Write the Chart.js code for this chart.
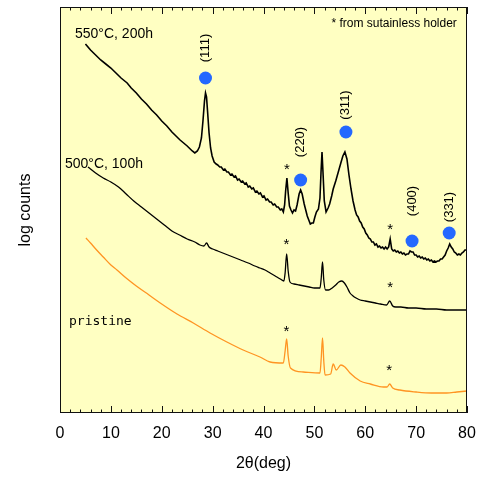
<!DOCTYPE html>
<html>
<head>
<meta charset="utf-8">
<script src="https://cdn.jsdelivr.net/npm/chart.js@4.4.1/dist/chart.umd.min.js"></script>
<style>
  html, body { margin: 0; padding: 0; background: #fff; }
  #wrap { width: 483px; height: 482px; }
</style>
</head>
<body>
<div id="wrap"><canvas id="xrd" width="483" height="482"></canvas></div>
<script>
// 2theta (deg) and log counts (arbitrary, offset per pattern)
const x550 = [5.0, 6.0, 7.0, 8.0, 9.0, 10.0, 11.0, 12.0, 13.2, 14.0, 15.0, 16.0, 17.0, 18.0, 19.0, 20.0, 21.0, 22.0, 22.8, 23.6, 24.3, 25.0, 25.6, 26.0, 26.5,
  27.0, 27.4, 27.8, 28.1, 28.4, 28.6, 28.8, 29.0, 29.3, 29.6, 29.9,
  30.3, 30.7, 31.0, 31.4, 31.7, 32.1, 32.4, 32.8, 33.1, 33.5, 33.8, 34.2, 34.5, 34.9, 35.2, 35.6, 35.9, 36.3, 36.6, 37.0, 37.3, 37.7, 38.0, 38.4,
  38.7, 39.1, 39.4, 39.8, 40.1, 40.5, 40.8, 41.2, 41.5, 41.9, 42.2, 42.6, 42.9, 43.3, 43.6, 43.9,
  44.15, 44.35, 44.6, 44.85, 45.1, 45.4, 45.7, 46.0, 46.3, 46.6, 47.0, 47.3, 47.6, 48.0, 48.3, 48.6, 48.9, 49.2, 49.5, 49.8, 50.1, 50.4, 50.8, 51.1, 51.3, 51.5, 51.7, 51.95,
  52.3, 52.7, 53.0, 53.4, 53.7, 54.2, 54.7, 55.2, 55.6, 56.0, 56.4, 56.8, 57.2, 57.6,
  58.0, 58.3, 58.6, 58.9, 59.2, 59.5, 59.8, 60.1, 60.4, 60.7, 61.0, 61.3, 61.6, 61.9, 62.2, 62.5, 62.8, 63.1, 63.4, 63.7, 64.0, 64.3, 64.6,
  64.9, 65.2, 65.5, 65.8, 66.1, 66.4, 66.7, 67.0, 67.3, 67.6, 67.9, 68.2, 68.5, 68.8, 69.1, 69.4, 69.7, 70.0, 70.3, 70.6, 70.9, 71.2, 71.5,
  71.8, 72.1, 72.4, 72.7, 73.0, 73.3, 73.6, 73.9, 74.2, 74.5, 74.8, 75.1, 75.4, 75.7, 76.0, 76.3, 76.6, 76.9, 77.2, 77.5, 77.8, 78.1, 78.4,
  78.7, 79.0, 79.3, 79.6, 79.9];
const y550 = [369, 363, 358, 353, 349, 345, 340, 335, 330, 325, 320, 314, 309, 303, 298, 292, 287, 281, 277, 273, 270, 267, 264, 262, 260,
  262, 266, 275, 292, 312, 320, 316, 302, 280, 265, 257,
  251, 249, 248, 246, 246, 243, 244, 241, 241, 238, 239, 236, 237, 233, 234, 231, 232, 229, 230, 226, 227, 224, 225, 221,
  222, 219, 220, 216, 217, 213, 214, 211, 211, 208, 209, 206, 206, 203, 204, 201,
  208, 222, 235, 220, 207, 203, 200, 203, 202, 208, 219, 223, 219, 209, 203, 197, 193, 189, 190, 190, 196, 201, 204, 215, 240, 261, 240, 212,
  201, 205, 209, 217, 224, 232, 241, 250, 257, 261, 254, 238, 224, 212,
  203, 198, 196, 192, 190, 186, 184, 180, 178, 175, 174, 171, 171, 168, 169, 166, 167, 165, 166, 164, 166, 164, 166,
  174, 164, 162, 163, 161, 162, 160, 161, 159, 160, 158, 159, 159, 162, 161, 161, 158, 158, 156, 157, 155, 156, 154,
  155, 153, 154, 152, 153, 151, 152, 151, 152, 152, 154, 154, 156, 158, 162, 165, 169, 166, 164, 161, 160, 158, 159,
  158, 160, 161, 163, 163];

const x500 = [5.5, 7.0, 8.5, 10.0, 11.5, 13.0, 14.5, 16.0, 17.5, 19.0, 20.5, 22.0, 23.5, 25.0, 26.5, 27.5, 28.3, 28.8, 29.3, 30.0, 31.0, 32.5, 34.0, 35.5, 37.0,
  38.3, 39.3, 40.3, 41.3, 42.3, 43.3, 44.0, 44.25, 44.55, 44.85, 45.2, 46.0, 47.0, 48.0, 49.0, 50.0, 51.1, 51.35, 51.6, 51.85, 52.2, 52.8, 53.5, 54.2, 54.8,
  55.4, 55.9, 56.4, 57.0, 57.6, 58.2, 59.0, 60.0, 61.0, 62.0, 63.0, 64.2, 64.8, 65.4, 66.0, 67.0, 68.5, 70.0, 72.0, 74.0, 76.0, 78.0, 80.0];
const y500 = [246, 240, 235, 231, 226, 219, 212, 206, 200, 194, 188, 182, 178, 174, 171, 168, 167, 170, 166, 164, 162, 159, 156, 153, 150,
  147, 145, 143, 140, 137, 134, 132, 140, 159, 142, 131, 129, 128, 127, 126, 125, 125, 135, 151, 133, 123, 123, 125, 128, 131,
  132, 130, 126, 120, 117, 115, 113, 112, 111, 110, 109, 108, 112, 107, 106, 106, 105, 105, 104, 104, 103, 103, 103];

const xPristine = [5.1, 6.0, 7.2, 8.5, 10.0, 11.2, 13.0, 15.0, 17.5, 19.7, 23.0, 26.2, 29.5, 32.8, 36.0, 39.3, 41.3, 43.9, 44.25, 44.55, 44.85, 45.3, 47.8,
  51.1, 51.35, 51.6, 51.85, 52.1, 53.2, 53.7, 54.3, 55.2, 56.0, 57.0, 59.0, 61.0, 63.6, 64.3, 64.8, 65.4, 66.8, 70.0, 73.0, 76.0, 78.0, 80.0];
const yPristine = [175, 170, 163, 156, 148, 143, 135, 127, 118, 110, 99, 90, 80, 71, 63, 56, 51, 50, 62, 74, 57, 45, 41,
  40, 55, 75, 52, 38, 39, 49, 43, 48, 46, 40, 32, 29, 26, 26, 29, 25, 23, 21, 20, 20, 21, 22];

// fcc reflections
const hkl = ['(111)', '(220)', '(311)', '(400)', '(331)'];
const hklX = [28.6, 47.3, 56.2, 69.2, 76.5];
const hklY = [335, 233, 281, 172, 180];
const hklTextY = [365, 271, 308, 212, 206];

// stainless holder peaks
const starX = [44.6, 64.9, 44.5, 64.9, 44.5, 64.7];
const starY = [246, 186, 171, 128, 84, 45];

const curveNames = ['550°C, 200h', '500°C, 100h', 'pristine'];
const curveNameX = [2.95, 0.98, 1.77];
const curveNameY = [379, 249, 91];

const xTicks = [0, 10, 20, 30, 40, 50, 60, 70, 80];

const pts = (xs, ys) => xs.map((v, i) => ({ x: v, y: ys[i] }));

const decor = {
  id: 'decor',
  beforeDraw(c) {
    const { ctx, chartArea: a } = c;
    ctx.save();
    ctx.fillStyle = '#ffffc2';
    ctx.fillRect(a.left, a.top, a.right - a.left, a.bottom - a.top);
    ctx.restore();
  },
  afterDatasetsDraw(c) {
    const { ctx, chartArea: a, scales: { x, y } } = c;
    ctx.save();
    ctx.strokeStyle = '#111';
    ctx.lineWidth = 1;
    ctx.strokeRect(a.left + 0.5, a.top + 0.5, a.right - a.left - 1, a.bottom - a.top - 1);
    ctx.beginPath();
    for (let v = 0; v <= 80; v += 2) {
      const px = Math.round(x.getPixelForValue(v)) + 0.5;
      const len = v % 10 === 0 ? 7 : 3.5;
      ctx.moveTo(px, a.bottom);
      ctx.lineTo(px, a.bottom - len);
      ctx.moveTo(px, a.top);
      ctx.lineTo(px, a.top + len);
    }
    ctx.stroke();

    ctx.fillStyle = '#000';
    ctx.textBaseline = 'middle';
    curveNames.forEach((t, i) => {
      ctx.font = i === 2 ? '13px "DejaVu Sans Mono", monospace' : '14px "Liberation Sans", Arial, sans-serif';
      ctx.textAlign = 'left';
      ctx.fillText(t, x.getPixelForValue(curveNameX[i]), y.getPixelForValue(curveNameY[i]));
    });

    ctx.font = '12px "Liberation Sans", Arial, sans-serif';
    ctx.textAlign = 'right';
    ctx.fillText('* from sutainless holder', x.getPixelForValue(78.0), y.getPixelForValue(389));

    ctx.font = '15px "Liberation Sans", Arial, sans-serif';
    ctx.textAlign = 'center';
    starX.forEach((v, i) => {
      ctx.fillText('*', x.getPixelForValue(v), y.getPixelForValue(starY[i]) + 3);
    });

    ctx.font = '13px "Liberation Sans", Arial, sans-serif';
    hkl.forEach((t, i) => {
      ctx.save();
      ctx.translate(x.getPixelForValue(hklX[i]), y.getPixelForValue(hklTextY[i]));
      ctx.rotate(-Math.PI / 2);
      ctx.textAlign = 'center';
      ctx.fillText(t, 0, 0);
      ctx.restore();
    });
    ctx.restore();
  }
};

new Chart(document.getElementById('xrd'), {
  type: 'line',
  data: {
    datasets: [
      { data: pts(x550, y550), borderColor: '#000', borderWidth: 1.6, tension: 0 },
      { data: pts(x500, y500), borderColor: '#000', borderWidth: 1.3, cubicInterpolationMode: 'monotone' },
      { data: pts(xPristine, yPristine), borderColor: '#ff9422', borderWidth: 1.3, cubicInterpolationMode: 'monotone' },
      { type: 'scatter', data: pts(hklX, hklY), backgroundColor: '#2468ff', borderWidth: 0, pointRadius: 6.5, showLine: false }
    ]
  },
  options: {
    responsive: false,
    animation: false,
    layout: { padding: { top: 7, right: 16, left: 0, bottom: 0 } },
    elements: { point: { radius: 0 } },
    plugins: { legend: { display: false }, tooltip: { enabled: false } },
    scales: {
      x: {
        type: 'linear', min: 0, max: 80,
        afterBuildTicks: s => { s.ticks = xTicks.map(v => ({ value: v })); },
        afterFit: s => { s.height = 69; s.paddingLeft = 0; s.paddingRight = 0; },
        grid: { display: false, drawTicks: false },
        border: { display: false },
        ticks: { color: '#000', padding: 11, font: { family: '"Liberation Sans", Arial, sans-serif', size: 16 } },
        title: { display: true, text: '2θ(deg)', color: '#000', padding: { top: 0, bottom: 9 },
          font: { family: '"Liberation Sans", Arial, sans-serif', size: 16 } }
      },
      y: {
        min: 0, max: 406,
        afterFit: s => { s.width = 60; },
        grid: { display: false, drawTicks: false },
        border: { display: false },
        ticks: { display: false },
        title: { display: true, text: 'log counts', color: '#000', padding: { top: 16, bottom: 16 },
          font: { family: '"Liberation Sans", Arial, sans-serif', size: 16 } }
      }
    }
  },
  plugins: [decor]
});
</script>
</body>
</html>
